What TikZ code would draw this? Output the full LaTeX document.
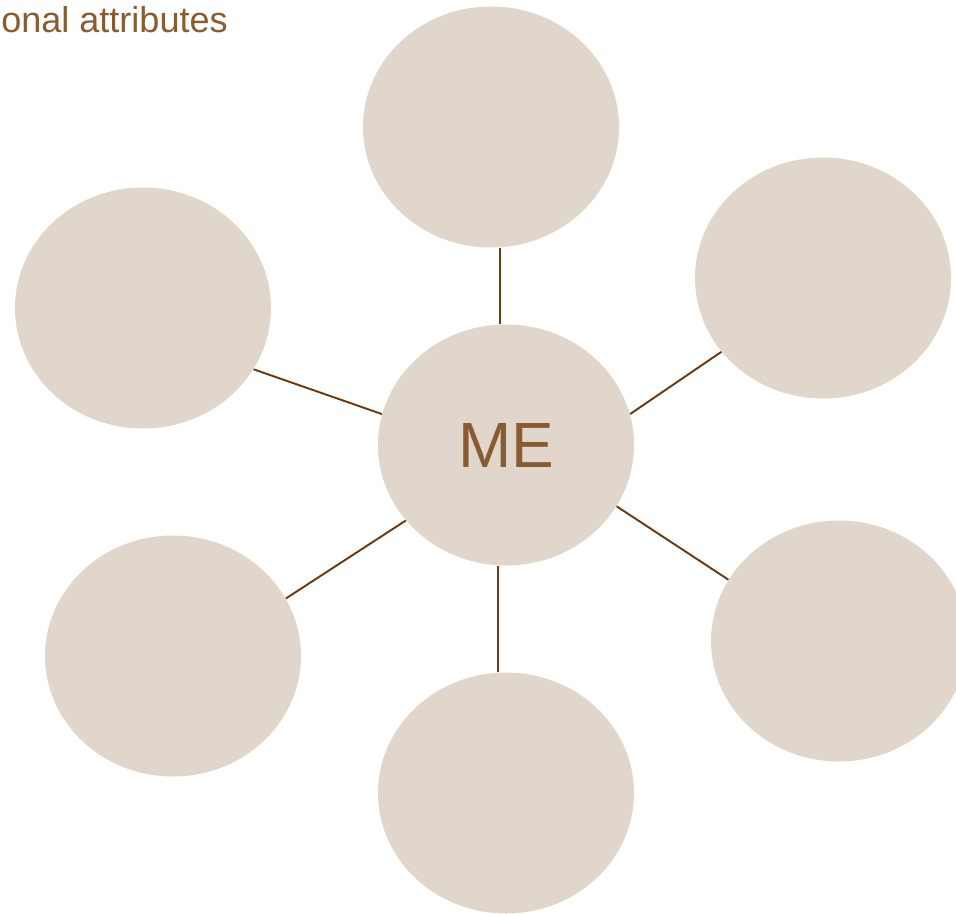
\documentclass[tikz,border=0pt]{standalone}
\usepackage{fontspec}
\setmainfont{Liberation Sans}
\usetikzlibrary{shapes,positioning}
\definecolor{bubbleFill}{HTML}{E0D6CC}
\definecolor{textBrown}{HTML}{8A5B2E}
\definecolor{lineBrown}{HTML}{6B3A12}
\tikzset{
	bubble/.style={ellipse,fill=bubbleFill,minimum width=5.12cm,minimum height=4.82cm,inner sep=0pt},
	spoke/.style={draw=lineBrown,line width=1.1pt}
}

\begin{document}
\begin{tikzpicture}
				\useasboundingbox (0,0) rectangle (19.12,18.26);
				\node[bubble] (me) at (10.12,9.36) {\textcolor{textBrown}{\fontsize{36.4}{40}\selectfont ME}};
				\node[bubble] (top) at (9.82,15.72) {};
				\node[bubble] (upright) at (16.46,12.70) {};
				\node[bubble] (upleft) at (2.86,12.10) {};
				\node[bubble] (lowleft) at (3.46,5.14) {};
				\node[bubble] (lowright) at (16.78,5.44) {};
				\node[bubble] (bottom) at (10.12,2.40) {};
				\draw[spoke] (me.93.3)--(me.93.3 |- top.south);
				\draw[spoke] (me.14)--(upright.216.4);
				\draw[spoke] (me.166)--(upleft.331.8);
				\draw[spoke] (me.217.4)--(lowleft.27.8);
				\draw[spoke] (me.331.8)--(lowright.151.8);
				\draw[spoke] (me.266.7)--(me.266.7 |- bottom.north);
				\node[anchor=base east,inner sep=0pt,textBrown,font=\fontsize{20.5}{24}\selectfont] (title) at (4.56,17.60) {onal attributes};
\end{tikzpicture}
\end{document}
